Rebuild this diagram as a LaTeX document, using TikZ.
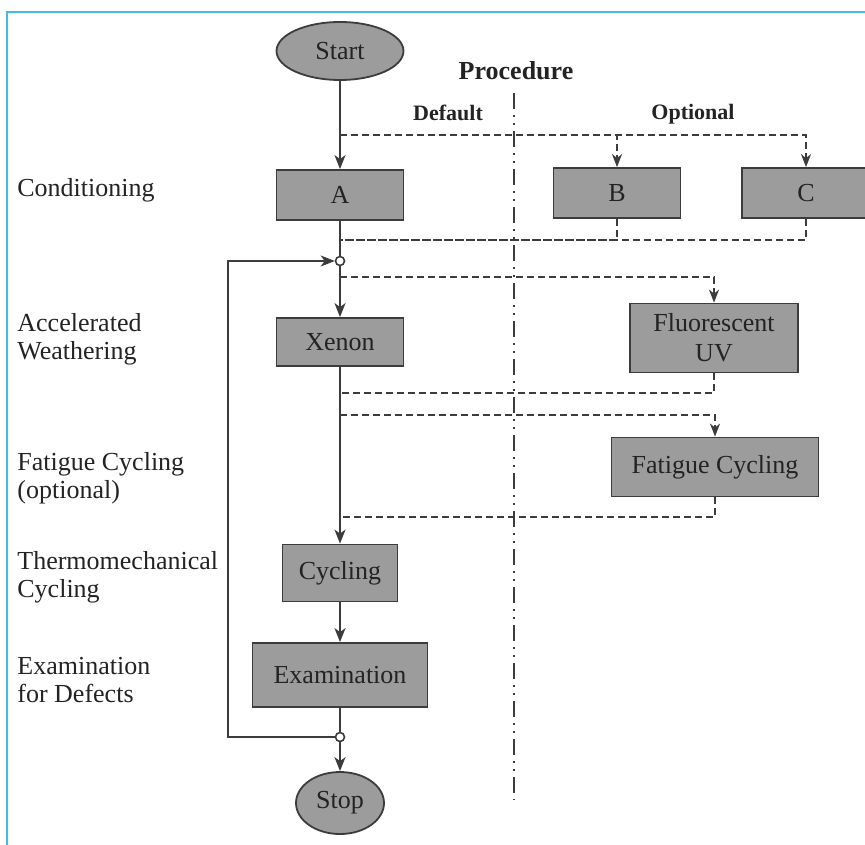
\documentclass[tikz,border=0pt]{standalone}
\usepackage{fontspec}
\setmainfont{Liberation Serif}
\usetikzlibrary{arrows.meta,shapes.geometric}
\definecolor{boxfill}{RGB}{156,156,156}
\definecolor{edgecol}{RGB}{60,60,60}
\definecolor{txt}{RGB}{35,35,35}
\definecolor{framecol}{RGB}{70,185,232}
\tikzset{
  boxnode/.style={draw=edgecol, line width=0.9pt, fill=boxfill, rectangle, inner sep=0pt,
    text=txt, font=\fontsize{13}{15}\selectfont, align=center},
  termnode/.style={draw=edgecol, line width=0.9pt, fill=boxfill, ellipse, inner sep=0pt,
    text=txt, font=\fontsize{13}{15}\selectfont},
  junc/.style={circle, draw=edgecol, line width=0.8pt, fill=white, inner sep=0pt, minimum size=4.5pt},
  sideLabel/.style={anchor=west, inner sep=0pt, text=txt, align=left, font=\fontsize{13}{14}\selectfont},
  headLabel/.style={inner sep=0pt, text=txt, font=\bfseries\fontsize{11}{13}\selectfont},
  solidline/.style={draw=edgecol, line width=1pt},
  solidarrow/.style={solidline, -{Stealth[length=7pt, width=5.5pt, inset=2pt]}},
  dashline/.style={draw=edgecol, line width=0.8pt, dash pattern=on 3.5pt off 2pt},
  dasharrow/.style={dashline, -{Stealth[length=6.5pt, width=5pt, inset=2pt]}},
  dashdotline/.style={draw=edgecol, line width=1.2pt, dash pattern=on 8pt off 3pt on 1pt off 3pt on 1pt off 3pt},
}
\begin{document}
\begin{tikzpicture}[x=0.5pt, y=-0.5pt]
\useasboundingbox (0,0) rectangle (865,844);
\fill[white] (0,0) rectangle (865,844);
% frame
\draw[draw=framecol, line width=1.1pt] (7,846) -- (7,12) -- (867,12);

% headings
\node[headLabel, font=\bfseries\fontsize{13}{15}\selectfont] (proc) at (516,71) {Procedure};
\node[headLabel] (def) at (448,113) {Default};
\node[headLabel] (opt) at (693,114) {Optional};

% side labels
\node[sideLabel] (l1) at (17,190) {Conditioning};
\node[sideLabel] (l2) at (17,339) {Accelerated\\Weathering};
\node[sideLabel] (l3) at (17,478) {Fatigue Cycling\\(optional)};
\node[sideLabel] (l4) at (17,577) {Thermomechanical\\Cycling};
\node[sideLabel] (l5) at (17,680) {Examination\\for Defects};

% separator
\coordinate (v1) at (514,93);
\coordinate (v2) at (514,800);
\draw[dashdotline] (v1) -- (v2);

% main column
\node[termnode, minimum width=63.5pt, minimum height=29pt] (start) at (340,51) {Start};
\node[boxnode, minimum width=63.5pt, minimum height=25pt] (A) at (340,195) {A};
\node[boxnode, minimum width=63.5pt, minimum height=25pt] (B) at (617,193) {B};
\node[boxnode, minimum width=64pt, minimum height=25pt] (C) at (806,193) {C};
\node[junc] (j1) at (340,261) {};
\node[boxnode, minimum width=63.5pt, minimum height=24pt] (xenon) at (340,342) {Xenon};
\node[boxnode, minimum width=84pt, minimum height=34.5pt] (fuv) at (714,338) {Fluorescent\\UV};
\node[boxnode, minimum width=103.5pt, minimum height=29.5pt] (fat) at (715,467) {Fatigue Cycling};
\node[boxnode, minimum width=57.5pt, minimum height=28.5pt] (cyc) at (340,573) {Cycling};
\node[boxnode, minimum width=87.5pt, minimum height=32pt] (exam) at (340,675) {Examination};
\node[junc] (j2) at (340,737) {};
\node[termnode, minimum width=44pt, minimum height=31pt] (stop) at (340,803) {Stop};

% branch coordinates
\coordinate (d1) at (340,135);
\coordinate (d2) at (340,240);
\coordinate (d3) at (340,277);
\coordinate (d4) at (340,393);
\coordinate (d5) at (340,415);
\coordinate (d6) at (340,517);
\coordinate (c1) at (228,737);
\coordinate (c2) at (228,261);

% solid flow
\draw[solidarrow] (start) -- (A);
\draw[solidline] (A) -- (j1);
\draw[solidarrow] (j1) -- (xenon);
\draw[solidarrow] (xenon) -- (cyc);
\draw[solidarrow] (cyc) -- (exam);
\draw[solidline] (exam) -- (j2);
\draw[solidarrow] (j2) -- (stop);
\draw[solidarrow] (j2) -- (c1) -- (c2) -- (j1);

% optional dashed branches
\draw[dasharrow] (d1) -| (B);
\draw[dasharrow] (d1) -| (C);
\draw[dashline] (B) |- (d2);
\draw[dashline] (C) |- (d2);
\draw[dasharrow] (d3) -| (fuv);
\draw[dashline] (fuv) |- (d4);
\draw[dasharrow] (d5) -| (fat);
\draw[dashline] (fat) |- (d6);
\end{tikzpicture}
\end{document}
